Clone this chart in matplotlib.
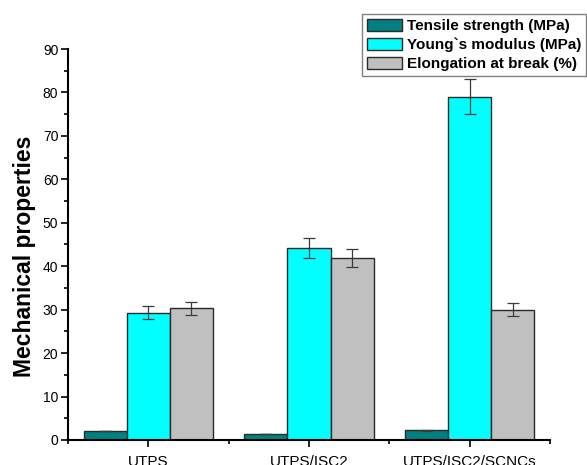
import matplotlib
matplotlib.use("Agg")
import matplotlib.pyplot as plt
import numpy as np
from matplotlib.ticker import MultipleLocator, FixedLocator

plt.rcParams['font.family'] = ['Liberation Sans', 'DejaVu Sans']

samples = ["UTPS", "UTPS/ISC2", "UTPS/ISC2/SCNCs"]
series = ["Tensile strength (MPa)", "Young`s modulus (MPa)", "Elongation at break (%)"]
tensile = [2.1, 1.4, 2.2]
tensile_err = [0.08, 0.06, 0.08]
young = [29.3, 44.2, 79.0]
young_err = [1.5, 2.2, 4.0]
elongation = [30.3, 41.9, 30.0]
elongation_err = [1.5, 2.1, 1.5]

colors = ["#008080", "#00FFFF", "#C0C0C0"]

fig = plt.figure(figsize=(5.87, 4.65), dpi=100)
ax = fig.add_axes([0.1158, 0.0538, 0.8212, 0.8408])

x = np.arange(1, len(samples) + 1)
width = 0.268
values = [tensile, young, elongation]
errors = [tensile_err, young_err, elongation_err]
for i, (vals, errs) in enumerate(zip(values, errors)):
    ax.bar(x + (i - 1) * width, vals, width, color=colors[i], edgecolor="#2b2b2b",
           linewidth=1.0, label=series[i], zorder=2)
    ax.errorbar(x + (i - 1) * width, vals, yerr=errs, fmt="none", ecolor="#3a3a3a",
                elinewidth=0.9, capsize=4, capthick=0.9, zorder=3)

ax.set_xlim(0.5, 3.5)
ax.set_ylim(0, 90)
ax.yaxis.set_major_locator(MultipleLocator(10))
ax.yaxis.set_minor_locator(MultipleLocator(5))
ax.set_xticks(x)
ax.set_xticklabels(samples, fontsize=11)
ax.xaxis.set_minor_locator(FixedLocator([0.5, 1.5, 2.5, 3.5]))
ax.tick_params(axis="y", labelsize=10, direction="out", length=5, width=1.2, pad=2)
ax.tick_params(axis="x", direction="out", length=5, width=1.2, pad=6)
ax.tick_params(which="minor", direction="out", length=3, width=1.2)

for s in ["top", "right"]:
    ax.spines[s].set_visible(False)
for s in ["left", "bottom"]:
    ax.spines[s].set_linewidth(1.5)

ax.set_ylabel("Mechanical properties", fontsize=16.5, fontweight="bold")
ax.yaxis.set_label_coords(-0.066, 0.47)

leg = fig.legend(loc="upper left", bbox_to_anchor=(0.617, 0.970), frameon=True,
                 fancybox=False, edgecolor="#808080", framealpha=1,
                 prop={"weight": "bold", "size": 11}, handlelength=2.3,
                 handleheight=0.85, handletextpad=0.35, borderpad=0.3,
                 labelspacing=0.3, borderaxespad=0)
leg.get_frame().set_linewidth(1.0)
for h in leg.legend_handles:
    h.set_edgecolor("#2b2b2b")

fig.savefig("out.png", dpi=100)
